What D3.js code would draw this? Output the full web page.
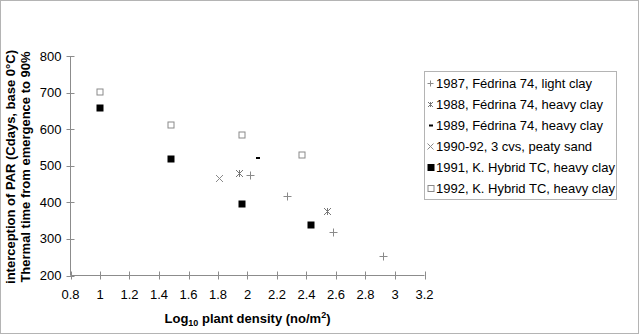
<!DOCTYPE html>
<html>
<head>
<meta charset="utf-8">
<script src="https://cdn.jsdelivr.net/npm/d3@7/dist/d3.min.js"></script>
<style>
  html, body { margin: 0; padding: 0; background: #fff; }
  svg { display: block; font-family: "Liberation Sans", Arial, sans-serif; }
</style>
</head>
<body>
<svg id="chart" width="640" height="335"></svg>
<script>
// Thermal time to 90% PAR interception vs log10 plant density
const xTicks = [0.8, 1, 1.2, 1.4, 1.6, 1.8, 2, 2.2, 2.4, 2.6, 2.8, 3, 3.2];
const yTicks = [200, 300, 400, 500, 600, 700, 800];

const s1987 = [[2.02, 475], [2.27, 416], [2.58, 318], [2.92, 252]];
const s1988 = [[1.94, 479], [2.54, 376]];
const s1989 = [[2.07, 520]];
const s1990 = [[1.81, 466]];
const s1991 = [[1.00, 658], [1.48, 518], [1.96, 396], [2.43, 338]];
const s1992 = [[1.00, 701], [1.48, 612], [1.96, 585], [2.37, 529]];

const seriesNames = [
  "1987, Fédrina 74, light clay",
  "1988, Fédrina 74, heavy clay",
  "1989, Fédrina 74, heavy clay",
  "1990-92, 3 cvs, peaty sand",
  "1991, K. Hybrid TC, heavy clay",
  "1992, K. Hybrid TC, heavy clay"
];

const svg = d3.select("#chart");

// outer frame
svg.append("rect").attr("x", 0.5).attr("y", 0.5).attr("width", 638).attr("height", 333)
  .attr("fill", "#fff").attr("stroke", "#b4b4b4");

const x = d3.scaleLinear().domain([0.8, 3.2]).range([70.5, 424.5]);
const y = d3.scaleLinear().domain([200, 800]).range([275.5, 56]);

const axisColor = "#8c8c8c";

// x axis (cross ticks)
const gx = svg.append("g").attr("transform", `translate(0,${y(200)})`);
gx.append("line").attr("x1", x(0.8)).attr("x2", x(3.2)).attr("stroke", axisColor);
gx.selectAll("line.t").data(xTicks).join("line").attr("class", "t")
  .attr("x1", d => Math.round(x(d)) + 0.5).attr("x2", d => Math.round(x(d)) + 0.5)
  .attr("y1", -4).attr("y2", 4).attr("stroke", axisColor);
gx.selectAll("text").data(xTicks).join("text")
  .attr("x", d => x(d)).attr("y", 23).attr("text-anchor", "middle")
  .attr("font-size", 13).attr("fill", "#000").text(d => d);

// y axis (cross ticks)
const gy = svg.append("g").attr("transform", `translate(${x(0.8)},0)`);
gy.append("line").attr("y1", y(200)).attr("y2", y(800)).attr("stroke", axisColor);
gy.selectAll("line.t").data(yTicks).join("line").attr("class", "t")
  .attr("y1", d => Math.round(y(d)) + 0.5).attr("y2", d => Math.round(y(d)) + 0.5)
  .attr("x1", -4).attr("x2", 4).attr("stroke", axisColor);
gy.selectAll("text").data(yTicks).join("text")
  .attr("x", -9).attr("y", d => y(d) + 4.5).attr("text-anchor", "end")
  .attr("font-size", 13).attr("fill", "#000").text(d => d);

// axis titles
const xt = svg.append("text").attr("x", 247.5).attr("y", 323)
  .attr("text-anchor", "middle").attr("font-size", 13).attr("font-weight", "bold");
xt.append("tspan").text("Log");
xt.append("tspan").attr("font-size", 9).attr("dy", 3).text("10");
xt.append("tspan").attr("dy", -3).text(" plant density (no/m");
xt.append("tspan").attr("font-size", 9).attr("dy", -5).text("2");
xt.append("tspan").attr("dy", 5).text(")");

const yt = svg.append("g").attr("transform", "translate(0,167) rotate(-90)");
yt.append("text").attr("x", 0).attr("y", 15).attr("text-anchor", "middle")
  .attr("font-size", 13).attr("font-weight", "bold").text("interception of PAR (Cdays, base 0°C)");
yt.append("text").attr("x", 0).attr("y", 30).attr("text-anchor", "middle")
  .attr("font-size", 13).attr("font-weight", "bold").text("Thermal time from emergence to 90%");

// marker drawers
const grey = "#8a8a8a";
function plus(g, cx, cy, r) {
  g.append("path").attr("d", `M${cx - r},${cy}H${cx + r}M${cx},${cy - r}V${cy + r}`)
    .attr("stroke", grey).attr("fill", "none");
}
function cross(g, cx, cy, r, col) {
  g.append("path").attr("d", `M${cx - r},${cy - r}L${cx + r},${cy + r}M${cx - r},${cy + r}L${cx + r},${cy - r}`)
    .attr("stroke", col).attr("fill", "none");
}
function star(g, cx, cy, r) {
  cross(g, cx, cy, r, "#777");
  g.append("path").attr("d", `M${cx},${cy - r}V${cy + r}`).attr("stroke", "#777").attr("fill", "none");
}
function dash(g, cx, cy, w) {
  g.append("rect").attr("x", cx - w / 2).attr("y", cy - 1).attr("width", w).attr("height", 2).attr("fill", "#000");
}
function fsq(g, cx, cy, s) {
  g.append("rect").attr("x", cx - s / 2).attr("y", cy - s / 2).attr("width", s).attr("height", s)
    .attr("fill", "#000");
}
function osq(g, cx, cy, s) {
  g.append("rect").attr("x", cx - s / 2 + 0.5).attr("y", cy - s / 2 + 0.5).attr("width", s - 1).attr("height", s - 1)
    .attr("fill", "#fff").attr("stroke", "#8a8a8a");
}

const pts = svg.append("g");
s1992.forEach(d => osq(pts, Math.round(x(d[0])), Math.round(y(d[1])), 7));
s1991.forEach(d => fsq(pts, Math.round(x(d[0])), Math.round(y(d[1])), 7));
s1990.forEach(d => cross(pts, Math.round(x(d[0])) + 0.5, Math.round(y(d[1])) + 0.5, 3.5, grey));
s1989.forEach(d => dash(pts, Math.round(x(d[0])), Math.round(y(d[1])), 4));
s1988.forEach(d => star(pts, Math.round(x(d[0])) + 0.5, Math.round(y(d[1])) + 0.5, 3.5));
s1987.forEach(d => plus(pts, Math.round(x(d[0])) + 0.5, Math.round(y(d[1])) + 0.5, 4));

// legend
const lg = svg.append("g");
lg.append("rect").attr("x", 424.5).attr("y", 71.5).attr("width", 192).attr("height", 128)
  .attr("fill", "#fff").attr("stroke", "#b4b4b4");
const rowY = [83.5, 104.5, 125.5, 146.5, 167.5, 188.5];
const drawers = [
  (g, cy) => plus(g, 430.5, cy, 3),
  (g, cy) => star(g, 430.5, cy, 2.5),
  (g, cy) => dash(g, 431, cy, 4),
  (g, cy) => cross(g, 430.5, cy, 3, grey),
  (g, cy) => fsq(g, 431, cy, 7),
  (g, cy) => osq(g, 431, cy, 7)
];
seriesNames.forEach((name, i) => {
  drawers[i](lg, rowY[i]);
  lg.append("text").attr("x", 436).attr("y", rowY[i] + 4.5).attr("font-size", 13)
    .attr("fill", "#000").text(name);
});
</script>
</body>
</html>
